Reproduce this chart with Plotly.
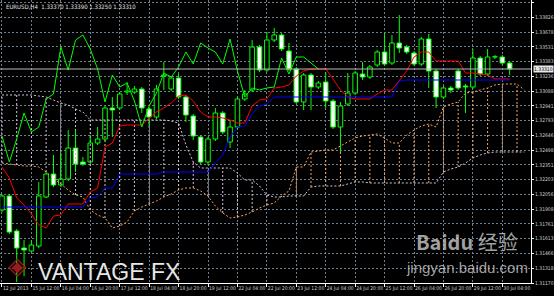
import plotly.graph_objects as go

# ---------------- data (EURUSD H4) ----------------
OPEN = [1.3190,1.3204,1.3169,1.3152,1.3149,1.3154,1.3203,1.3226,1.3215,1.3221,
        1.3252,1.3238,1.3238,1.3257,1.3261,1.3292,1.3292,1.3308,1.3308,1.3311,
        1.3291,1.3283,1.3324,1.3311,1.3322,1.3303,1.3284,1.3263,1.3238,1.3261,
        1.3287,1.3258,1.3273,1.3301,1.3310,1.3353,1.3330,1.3360,1.3365,1.3349,
        1.3331,1.3298,1.3325,1.3313,1.3318,1.3299,1.3273,1.3296,1.3307,1.3326,
        1.3323,1.3335,1.3348,1.3337,1.3357,1.3353,1.3347,1.3336,1.3361,1.3329,
        1.3303,1.3312,1.3329,1.3314,1.3313,1.3342,1.3326,1.3343,1.3343,1.3337]
HIGH = [1.3206,1.3206,1.3171,1.3160,1.3160,1.3218,1.3228,1.3245,1.3247,1.3270,
        1.3270,1.3243,1.3265,1.3273,1.3294,1.3303,1.3308,1.3318,1.3314,1.3313,
        1.3293,1.3315,1.3338,1.3324,1.3326,1.3305,1.3286,1.3265,1.3263,1.3292,
        1.3289,1.3280,1.3303,1.3310,1.3360,1.3355,1.3368,1.3372,1.3367,1.3357,
        1.3333,1.3327,1.3327,1.3319,1.3328,1.3301,1.3298,1.3327,1.3329,1.3338,
        1.3335,1.3350,1.3367,1.3365,1.3385,1.3355,1.3349,1.3363,1.3366,1.3331,
        1.3314,1.3314,1.3331,1.3316,1.3351,1.3344,1.3351,1.3345,1.3345,1.3339]
LOW = [1.3188,1.3166,1.3118,1.3124,1.3148,1.3152,1.3202,1.3213,1.3213,1.3219,
       1.3228,1.3234,1.3236,1.3255,1.3259,1.3263,1.3290,1.3305,1.3306,1.3287,
       1.3274,1.3281,1.3310,1.3309,1.3301,1.3278,1.3260,1.3236,1.3235,1.3259,
       1.3266,1.3252,1.3271,1.3299,1.3308,1.3328,1.3328,1.3358,1.3349,1.3329,
       1.3296,1.3290,1.3290,1.3311,1.3292,1.3271,1.3248,1.3294,1.3305,1.3320,
       1.3321,1.3333,1.3334,1.3335,1.3347,1.3346,1.3334,1.3334,1.3312,1.3292,
       1.3301,1.3307,1.3310,1.3287,1.3311,1.3324,1.3324,1.3341,1.3335,1.3325]
CLOSE = [1.3204,1.3168,1.3152,1.3150,1.3155,1.3204,1.3226,1.3215,1.3221,1.3252,
         1.3236,1.3236,1.3257,1.3261,1.3292,1.3290,1.3306,1.3309,1.3311,1.3292,
         1.3283,1.3311,1.3325,1.3322,1.3303,1.3285,1.3264,1.3238,1.3261,1.3287,
         1.3268,1.3273,1.3301,1.3306,1.3353,1.3330,1.3360,1.3365,1.3351,1.3331,
         1.3298,1.3325,1.3313,1.3317,1.3299,1.3273,1.3294,1.3307,1.3327,1.3323,
         1.3333,1.3348,1.3336,1.3357,1.3352,1.3348,1.3336,1.3361,1.3329,1.3303,
         1.3312,1.3310,1.3312,1.3313,1.3342,1.3326,1.3343,1.3343,1.3337,1.3331]
TENKAN = [1.3233,1.3222,1.3202,1.3195,1.3186,1.3175,1.3172,1.3184,1.3185,1.3196,
          1.3196,1.3196,1.3208,1.3212,1.3253,1.3257,1.3274,1.3275,1.3275,1.3275,
          1.3282,1.3288,1.3292,1.3297,1.3304,1.3305,1.3299,1.3288,1.3283,1.3283,
          1.3282,1.3280,1.3277,1.3277,1.3294,1.3300,1.3301,1.3312,1.3313,1.3315,
          1.3324,1.3329,1.3331,1.3331,1.3331,1.3321,1.3310,1.3303,1.3301,1.3301,
          1.3301,1.3306,1.3310,1.3310,1.3320,1.3329,1.3343,1.3348,1.3348,1.3339,
          1.3339,1.3339,1.3339,1.3327,1.3327,1.3326,1.3325,1.3321,1.3321,1.3321]
KIJUN = [1.3193,1.3193,1.3193,1.3193,1.3193,1.3193,1.3193,1.3193,1.3193,1.3193,
         1.3193,1.3193,1.3202,1.3203,1.3212,1.3212,1.3226,1.3226,1.3226,1.3226,
         1.3226,1.3226,1.3228,1.3228,1.3228,1.3228,1.3228,1.3228,1.3228,1.3237,
         1.3245,1.3263,1.3273,1.3274,1.3286,1.3294,1.3296,1.3303,1.3303,1.3303,
         1.3303,1.3303,1.3303,1.3303,1.3303,1.3303,1.3303,1.3303,1.3303,1.3303,
         1.3303,1.3303,1.3303,1.3303,1.3319,1.3320,1.3320,1.3320,1.3320,1.3320,
         1.3320,1.3320,1.3320,1.3320,1.3320,1.3320,1.3320,1.3320,1.3320,1.3320]
SPAN_A = [1.3237,1.3236,1.3235,1.3234,1.3234,1.3233,1.3228,1.3222,1.3216,1.3210,
          1.3205,1.3203,1.3190,1.3185,1.3182,1.3172,1.3174,1.3178,1.3189,1.3193,
          1.3196,1.3199,1.3203,1.3206,1.3210,1.3212,1.3212,1.3209,1.3204,1.3194,
          1.3187,1.3182,1.3183,1.3185,1.3188,1.3192,1.3195,1.3197,1.3204,1.3209,
          1.3233,1.3233,1.3248,1.3249,1.3250,1.3250,1.3254,1.3258,1.3262,1.3264,
          1.3265,1.3266,1.3262,1.3257,1.3257,1.3265,1.3270,1.3274,1.3276,1.3273,
          1.3293,1.3296,1.3298,1.3307,1.3308,1.3310,1.3312,1.3315,1.3316,1.3316,
          1.3316,1.3310]
SPAN_B = [1.3305,1.3305,1.3305,1.3305,1.3305,1.3304,1.3303,1.3300,1.3297,1.3295,
          1.3291,1.3288,1.3280,1.3280,1.3280,1.3280,1.3280,1.3280,1.3280,1.3280,
          1.3280,1.3280,1.3280,1.3279,1.3277,1.3255,1.3238,1.3232,1.3232,1.3232,
          1.3232,1.3232,1.3227,1.3220,1.3220,1.3214,1.3205,1.3203,1.3203,1.3204,
          1.3204,1.3204,1.3213,1.3214,1.3214,1.3214,1.3214,1.3216,1.3218,1.3218,
          1.3217,1.3217,1.3217,1.3217,1.3217,1.3217,1.3217,1.3217,1.3217,1.3217,
          1.3228,1.3231,1.3233,1.3237,1.3242,1.3245,1.3247,1.3248,1.3248,1.3248,
          1.3248,1.3248]
CHIKOU_SHIFT = 26
DATE_LABELS = ["12 Jul 2013", "15 Jul 12:00", "16 Jul 04:00", "16 Jul 20:00",
               "17 Jul 12:00", "18 Jul 04:00", "18 Jul 20:00", "19 Jul 12:00",
               "22 Jul 04:00", "22 Jul 20:00", "23 Jul 12:00", "24 Jul 04:00",
               "24 Jul 20:00", "25 Jul 12:00", "26 Jul 04:00", "26 Jul 20:00",
               "29 Jul 12:00", "30 Jul 04:00"]
PRICE_TICKS = [1.33973, 1.33826, 1.33678, 1.33531, 1.33383, 1.33236, 1.33088,
               1.32941, 1.32793, 1.32646, 1.32498, 1.32351, 1.32203, 1.32056,
               1.31908, 1.31761, 1.31613, 1.31466, 1.31318, 1.31170]
SYMBOL = "EURUSD,H4"

# ---------------- style ----------------
BG = "#000000"
CANDLE = "#00ff00"
GRID = "#6f7f8f"
TXT = "#d0d0d0"
FONT = "Liberation Sans Narrow, DejaVu Sans Condensed, Arial, sans-serif"

n = len(CLOSE)
X = list(range(n))
XC = list(range(len(SPAN_A)))

fig = go.Figure()

# cloud hatching (every other bar)
hx_up, hy_up, hx_dn, hy_dn = [], [], [], []
for i in XC:
    if i % 2:
        continue
    if SPAN_A[i] >= SPAN_B[i]:
        hx_up += [i, i, None]; hy_up += [SPAN_B[i], SPAN_A[i], None]
    else:
        hx_dn += [i, i, None]; hy_dn += [SPAN_A[i], SPAN_B[i], None]
fig.add_trace(go.Scatter(x=hx_up, y=hy_up, mode="lines", hoverinfo="skip",
                         line=dict(color="#f4a460", width=1, dash="2px,2px")))
fig.add_trace(go.Scatter(x=hx_dn, y=hy_dn, mode="lines", hoverinfo="skip",
                         line=dict(color="#d8bfd8", width=1, dash="2px,2px")))
fig.add_trace(go.Scatter(x=XC, y=SPAN_A, mode="lines", name="Senkou A",
                         line=dict(color="#f4a460", width=1, dash="2px,2px")))
fig.add_trace(go.Scatter(x=XC, y=SPAN_B, mode="lines", name="Senkou B",
                         line=dict(color="#d8bfd8", width=1, dash="2px,2px")))

# candle bodies
up_i = [i for i in X if CLOSE[i] >= OPEN[i]]
dn_i = [i for i in X if CLOSE[i] < OPEN[i]]
MIN_H = 0.00003
for idx, fill in ((up_i, BG), (dn_i, "#ffffff")):
    fig.add_trace(go.Bar(
        x=idx,
        base=[min(OPEN[i], CLOSE[i]) for i in idx],
        y=[max(abs(CLOSE[i] - OPEN[i]), MIN_H) for i in idx],
        width=0.62,
        marker=dict(color=fill, line=dict(color=CANDLE, width=1)),
        hoverinfo="skip"))

# wicks (outside the body only)
wx, wy = [], []
for i in X:
    top = max(OPEN[i], CLOSE[i]); bot = min(OPEN[i], CLOSE[i])
    if HIGH[i] > top:
        wx += [i, i, None]; wy += [HIGH[i], top, None]
    if LOW[i] < bot:
        wx += [i, i, None]; wy += [bot, LOW[i], None]
fig.add_trace(go.Scatter(x=wx, y=wy, mode="lines", hoverinfo="skip",
                         line=dict(color=CANDLE, width=1)))

# Ichimoku lines
fig.add_trace(go.Scatter(x=X, y=TENKAN, mode="lines", name="Tenkan",
                         line=dict(color="#ff0000", width=1)))
fig.add_trace(go.Scatter(x=X, y=KIJUN, mode="lines", name="Kijun",
                         line=dict(color="#0000ff", width=1)))
fig.add_trace(go.Scatter(x=X[:n - CHIKOU_SHIFT], y=CLOSE[CHIKOU_SHIFT:], mode="lines",
                         name="Chikou", line=dict(color="#00ff00", width=1)))

# current price line
last = CLOSE[-1]
fig.add_shape(type="line", xref="paper", x0=0, x1=1, y0=last, y1=last,
              line=dict(color="#b8b8b8", width=1))

ann = []
ann.append(dict(xref="paper", yref="y", x=1.0, y=last, xanchor="left", yanchor="middle",
                text=f"{last:.5f}", showarrow=False, bgcolor="#e8e8e8", borderpad=0,
                font=dict(size=5, color="#000000", family=FONT), xshift=2))
ann.append(dict(xref="paper", yref="paper", x=0.008, y=1.0, xanchor="left", yanchor="top",
                text=f"{SYMBOL}  {OPEN[-1]:.5f} {HIGH[-1]:.5f} {LOW[-1]:.5f} {CLOSE[-1]:.5f}",
                showarrow=False, font=dict(size=6, color="#e0e0e0", family=FONT), yshift=-1))
# watermarks
ann.append(dict(xref="paper", yref="paper", x=0.033, y=0.06, xanchor="center", yanchor="middle",
                text="◈", showarrow=False, font=dict(size=24, color="#9b1c1c", family="DejaVu Sans")))
ann.append(dict(xref="paper", yref="paper", x=0.205, y=0.04, xanchor="center", yanchor="middle",
                text="VANTAGE FX", showarrow=False,
                font=dict(size=23, color="#e6e6e6", family="Liberation Sans, Arial, sans-serif")))
ann.append(dict(xref="paper", yref="paper", x=0.88, y=0.145, xanchor="center", yanchor="middle",
                text="<b>Bai</b><b>du</b> 经验", showarrow=False,
                font=dict(size=20, color="rgba(215,215,215,0.75)", family="Noto Sans CJK SC, sans-serif")))
ann.append(dict(xref="paper", yref="paper", x=0.88, y=0.055, xanchor="center", yanchor="middle",
                text="jingyan.baidu.com", showarrow=False,
                font=dict(size=15, color="rgba(215,215,215,0.75)", family="Liberation Sans, Arial, sans-serif")))

fig.update_layout(
    width=554, height=296,
    margin=dict(l=0, r=20, t=0, b=13, pad=0),
    paper_bgcolor=BG, plot_bgcolor=BG,
    showlegend=False, barmode="overlay",
    annotations=ann,
    xaxis=dict(range=[-0.27, 71.9], tickvals=list(range(0, n, 4)), ticktext=DATE_LABELS,
               tickangle=0,
               showgrid=True, gridcolor=GRID, gridwidth=1, griddash="2px,2px",
               zeroline=False, showline=True, linecolor="#ffffff", linewidth=1,
               ticks="outside", ticklen=3, tickcolor="#ffffff",
               ticklabelposition="outside right",
               tickfont=dict(size=5, color=TXT, family=FONT), fixedrange=True),
    yaxis=dict(range=[1.3117, 1.3400], side="right", tickvals=PRICE_TICKS,
               ticktext=[f"{p:.5f}" for p in PRICE_TICKS],
               showgrid=True, gridcolor=GRID, gridwidth=1, griddash="2px,2px",
               zeroline=False, showline=True, linecolor="#ffffff", linewidth=1,
               ticks="outside", ticklen=2, tickcolor="#ffffff",
               tickfont=dict(size=5, color=TXT, family=FONT), fixedrange=True),
)

fig.write_html("out.html")
